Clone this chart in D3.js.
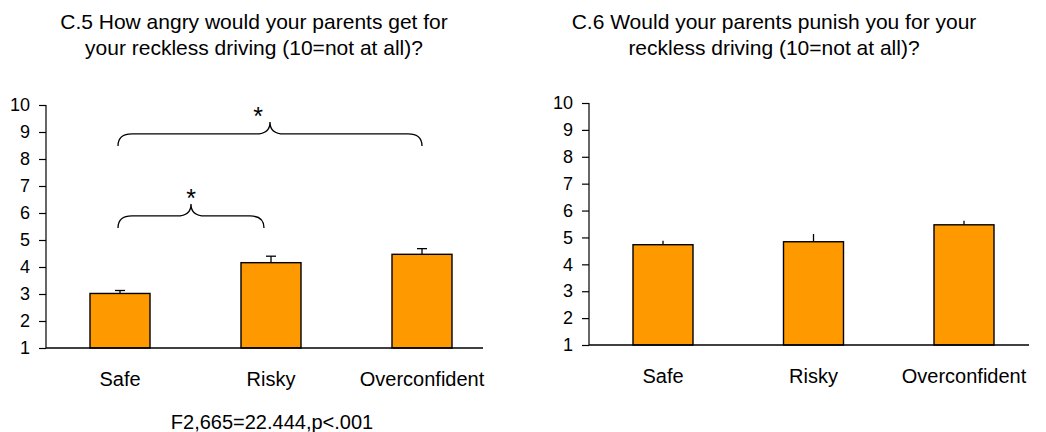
<!DOCTYPE html>
<html>
<head>
<meta charset="utf-8">
<script src="https://cdn.jsdelivr.net/npm/d3@7"></script>
<style>
  body { margin: 0; background: #fff; }
  text { font-family: "Liberation Sans", Arial, sans-serif; fill: #000; }
</style>
</head>
<body>
<svg id="chart" width="1046" height="432"></svg>
<script>
const categories = ["Safe", "Risky", "Overconfident"];
const tickValues = [1, 2, 3, 4, 5, 6, 7, 8, 9, 10];

// C.5 means and upper error
const angryMeans = [3.02, 4.16, 4.47];
const angryErr = [0.11, 0.24, 0.21];
// C.6 means and upper error
const punishMeans = [4.73, 4.84, 5.47];
const punishErr = [0.15, 0.29, 0.15];

// significance braces on C.5: [from, to, level]
const braceFrom = ["Safe", "Safe"];
const braceTo = ["Risky", "Overconfident"];
const braceLevel = [5.89, 8.93];

const svg = d3.select('#chart');

function panel(opts) {
    const g = svg.append('g');

    const y = d3.scaleLinear().domain([1, 10]).range([opts.bottom, opts.top]);
    const x = d3.scalePoint().domain(categories).range(opts.xr);
    const barW = 60;

    // title
    const t = g.append('text')
        .attr('text-anchor', 'middle')
        .attr('font-size', '21px');
    opts.title.forEach((line, i) => {
        t.append('tspan')
            .attr('x', opts.titleX)
            .attr('y', 29 + i * 26)
            .text(line);
    });

    // y axis
    const yAxis = d3.axisLeft(y).tickValues(tickValues).tickSize(7).tickPadding(9).tickFormat(d3.format('d'));
    const ya = g.append('g')
        .attr('transform', 'translate(' + opts.axisX + ',0)')
        .call(yAxis);
    ya.select('.domain').attr('d', 'M0,' + opts.top + 'V' + opts.bottom).attr('stroke', '#000').attr('stroke-width', 1.2);
    ya.selectAll('.tick line').attr('stroke', '#000').attr('stroke-width', 1.2);
    ya.selectAll('.tick text').attr('font-size', '18px').attr('font-family', '"Liberation Sans", Arial, sans-serif').attr('fill', '#000');

    // bars
    const data = categories.map((c, i) => ({ cat: c, v: opts.means[i], e: opts.err[i] }));

    g.selectAll('.bar')
        .data(data)
        .enter()
        .append('rect')
        .attr('class', 'bar')
        .attr('x', d => x(d.cat) - barW / 2)
        .attr('width', barW)
        .attr('y', d => y(d.v))
        .attr('height', d => y(1) - y(d.v))
        .attr('fill', '#FF9900')
        .attr('stroke', '#000')
        .attr('stroke-width', 1.4);

    // error bars
    g.selectAll('.err')
        .data(data)
        .enter()
        .append('line')
        .attr('x1', d => x(d.cat)).attr('x2', d => x(d.cat))
        .attr('y1', d => y(d.v)).attr('y2', d => y(d.v + d.e))
        .attr('stroke', '#000').attr('stroke-width', 1.3);

    if (opts.cap) {
        g.selectAll('.cap')
            .data(data)
            .enter()
            .append('line')
            .attr('x1', d => x(d.cat) - 5).attr('x2', d => x(d.cat) + 5)
            .attr('y1', d => y(d.v + d.e)).attr('y2', d => y(d.v + d.e))
            .attr('stroke', '#000').attr('stroke-width', 1.3);
    }

    // x axis line
    g.append('line')
        .attr('x1', opts.axisX).attr('x2', opts.axisEnd)
        .attr('y1', y(1)).attr('y2', y(1))
        .attr('stroke', '#000').attr('stroke-width', 1.3);

    // category labels
    g.selectAll('.cat')
        .data(categories)
        .enter()
        .append('text')
        .attr('x', d => x(d))
        .attr('y', y(1) + 38)
        .attr('text-anchor', 'middle')
        .attr('font-size', '20px')
        .text(d => d);

    return { x: x, y: y, g: g };
}

const left = panel({
    title: ['C.5 How angry would your parents get for', 'your reckless driving (10=not at all)?'],
    titleX: 254, axisX: 46, axisEnd: 483, top: 105, bottom: 348,
    xr: [120, 422], means: angryMeans, err: angryErr, cap: true
});

const right = panel({
    title: ['C.6 Would your parents punish you for your', 'reckless driving (10=not at all)?'],
    titleX: 774, axisX: 589, axisEnd: 1029, top: 103, bottom: 345,
    xr: [663, 964], means: punishMeans, err: punishErr, cap: false
});

// braces
function bracePath(x1, x2, yh, h) {
    const xm = (x1 + x2) / 2, r = 14;
    return 'M' + x1 + ',' + (yh + h) +
        'Q' + x1 + ',' + yh + ' ' + (x1 + r) + ',' + yh +
        'L' + (xm - r) + ',' + yh +
        'Q' + xm + ',' + yh + ' ' + xm + ',' + (yh - h) +
        'Q' + xm + ',' + yh + ' ' + (xm + r) + ',' + yh +
        'L' + (x2 - r) + ',' + yh +
        'Q' + x2 + ',' + yh + ' ' + x2 + ',' + (yh + h);
}

braceLevel.forEach((lv, i) => {
    const x1 = left.x(braceFrom[i]) - 2;
    const x2 = left.x(braceTo[i]) - (i === 0 ? 7 : 0);
    const yh = left.y(lv);
    left.g.append('path')
        .attr('d', bracePath(x1, x2, yh, 12))
        .attr('fill', 'none')
        .attr('stroke', '#000')
        .attr('stroke-width', 1.3);
    left.g.append('text')
        .attr('x', (x1 + x2) / 2 - (i === 0 ? 0 : 12))
        .attr('y', yh - 12 + 3)
        .attr('text-anchor', 'middle')
        .attr('font-size', '25px')
        .text('*');
});

// stats note
svg.append('text')
    .attr('x', 272)
    .attr('y', 429)
    .attr('text-anchor', 'middle')
    .attr('font-size', '20px')
    .text('F2,665=22.444,p<.001');
</script>
</body>
</html>
